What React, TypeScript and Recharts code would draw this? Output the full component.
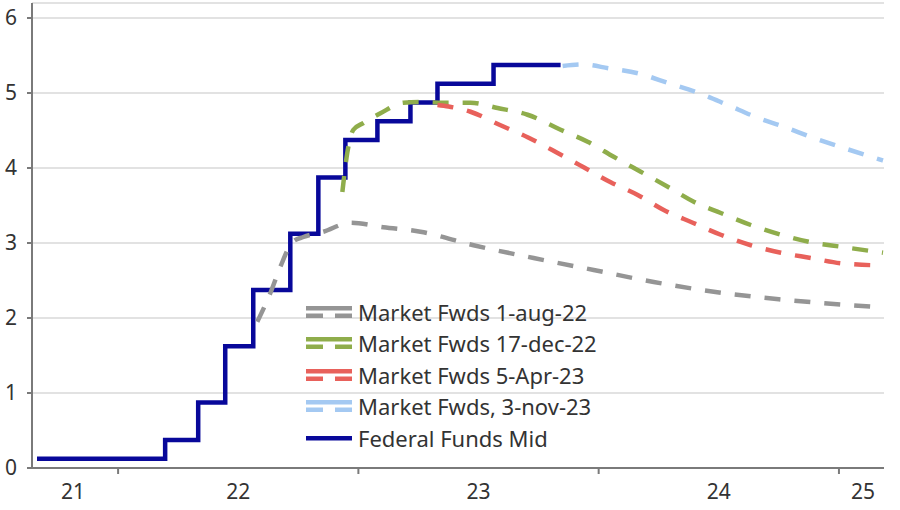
import { LineChart, Line, XAxis, YAxis, CartesianGrid, Legend } from 'recharts'

// x values are months since Jan 2022
const fedMonths = [-4.05, 2.35, 4.0, 5.35, 6.75, 8.6, 10.0, 11.35, 12.95, 14.6, 15.95, 18.75, 22.1]
const fedRates = [0.125, 0.375, 0.875, 1.625, 2.375, 3.125, 3.875, 4.375, 4.625, 4.875, 5.125, 5.375, 5.375]

const aug22Months = [6.95, 7.6, 8.1, 8.7, 9.25, 10.25, 11.6, 13.25, 15.1, 17.75, 20.75, 23.75, 26.75, 29.75, 33, 36.1, 38.2]
const aug22Rates = [1.95, 2.33, 2.68, 3.01, 3.08, 3.15, 3.27, 3.21, 3.15, 2.97, 2.8, 2.64, 2.48, 2.35, 2.25, 2.18, 2.14]

const dec22Months = [11.2, 11.45, 11.75, 12.25, 13.1, 14.25, 15.2, 16.25, 17.6, 18.95, 20.45, 22.1, 23.45, 24.75, 26.1, 27.45, 28.75, 30.1, 31.6, 33.1, 34.6, 36.1, 38.2]
const dec22Rates = [3.68, 4.21, 4.51, 4.6, 4.73, 4.87, 4.88, 4.87, 4.87, 4.8, 4.71, 4.51, 4.35, 4.15, 3.95, 3.75, 3.55, 3.4, 3.24, 3.11, 3.01, 2.95, 2.87]

const apr23Months = [15.95, 16.5, 17.6, 19.1, 20.45, 21.95, 23.25, 24.6, 25.95, 27.25, 28.7, 30.1, 31.6, 33.1, 34.6, 36.1, 38.2]
const apr23Rates = [4.84, 4.82, 4.75, 4.57, 4.41, 4.2, 4.01, 3.81, 3.64, 3.44, 3.27, 3.11, 2.97, 2.87, 2.8, 2.73, 2.7]

const nov23Months = [22.2, 23.2, 24.5, 26, 27.5, 29, 30.45, 31.85, 33.25, 34.75, 36.2, 38.2]
const nov23Rates = [5.36, 5.38, 5.33, 5.26, 5.13, 5.0, 4.84, 4.68, 4.55, 4.4, 4.27, 4.1]

const yearStarts = [0, 12, 24, 36]
const yearLabels = ['21', '22', '23', '24', '25']
const yearLabelPos = [-2.25, 6, 18, 30, 37.2]
const yTicks = [0, 1, 2, 3, 4, 5, 6]

const toPoints = (xs: number[], ys: number[]) => xs.map((m, i) => ({ m, v: ys[i] }))

const fwds = [
  { name: 'Market Fwds 1-aug-22', color: '#959595', data: toPoints(aug22Months, aug22Rates) },
  { name: 'Market Fwds 17-dec-22', color: '#8fad4b', data: toPoints(dec22Months, dec22Rates) },
  { name: 'Market Fwds 5-Apr-23', color: '#e8615b', data: toPoints(apr23Months, apr23Rates) },
  { name: 'Market Fwds, 3-nov-23', color: '#a4c9f2', data: toPoints(nov23Months, nov23Rates) },
]
const fed = { name: 'Federal Funds Mid', color: '#08089a', data: toPoints(fedMonths, fedRates) }

const axisGray = '#7a7a7a'
const textColor = '#333333'

function YearTick({ x, y, payload }: any) {
  const v = payload.value
  if (yearStarts.includes(v)) {
    return <line x1={x} x2={x} y1={y} y2={y + 6} stroke={axisGray} strokeWidth={2} />
  }
  const i = yearLabelPos.indexOf(v)
  return (
    <text x={x} y={y + 31} textAnchor="middle" fill={textColor} fontSize={21}>
      {yearLabels[i]}
    </text>
  )
}

function LegendBox() {
  const items = [...fwds.map((s) => ({ ...s, dashed: true })), { ...fed, dashed: false }]
  return (
    <div>
      {items.map((it) => (
        <div key={it.name} style={{ display: 'flex', alignItems: 'center', height: 31.5 }}>
          <svg width={46} height={14} style={{ marginRight: 6 }}>
            {it.dashed ? (
              <>
                <rect x={0} y={1} width={46} height={4.5} fill={it.color} />
                <rect x={0} y={8.5} width={17} height={4.5} fill={it.color} />
                <rect x={29} y={8.5} width={17} height={4.5} fill={it.color} />
              </>
            ) : (
              <rect x={0} y={5} width={46} height={4.5} fill={it.color} />
            )}
          </svg>
          <span style={{ fontSize: 22, color: textColor, whiteSpace: 'nowrap' }}>{it.name}</span>
        </div>
      ))}
    </div>
  )
}

export default function App() {
  return (
    <div style={{ position: 'absolute', left: 0, top: 0, background: '#fff', fontFamily: '"Noto Sans", sans-serif' }}>
      <LineChart width={900} height={510} margin={{ top: 3, right: 16, bottom: 0, left: 0 }}>
        <CartesianGrid vertical={false} stroke="#d8d8d8" strokeWidth={1.5} />
        <XAxis
          dataKey="m"
          type="number"
          domain={[-4.3, 38.25]}
          allowDataOverflow
          ticks={[...yearLabelPos, ...yearStarts].sort((a, b) => a - b)}
          interval={0}
          tick={<YearTick />}
          tickLine={false}
          tickSize={0}
          tickMargin={0}
          height={42}
          axisLine={{ stroke: axisGray, strokeWidth: 2 }}
        />
        <YAxis
          type="number"
          domain={[0, 6.2]}
          ticks={yTicks}
          width={32}
          tick={{ fill: textColor, fontSize: 21 }}
          tickLine={{ stroke: axisGray, strokeWidth: 2 }}
          tickSize={5}
          tickMargin={10}
          axisLine={{ stroke: axisGray, strokeWidth: 2 }}
        />
        <YAxis
          yAxisId="right"
          orientation="right"
          domain={[0, 6.2]}
          width={0}
          tick={false}
          tickLine={false}
          axisLine={{ stroke: axisGray, strokeWidth: 2 }}
        />
        <Line
          name={fed.name}
          data={fed.data}
          dataKey="v"
          type="stepAfter"
          stroke={fed.color}
          strokeWidth={4.5}
          dot={false}
          isAnimationActive={false}
        />
        {fwds.map((s) => (
          <Line
            key={s.name}
            name={s.name}
            data={s.data}
            dataKey="v"
            type="monotone"
            stroke={s.color}
            strokeWidth={4.5}
            strokeDasharray="16 14"
            dot={false}
            isAnimationActive={false}
          />
        ))}
        <Legend
          layout="vertical"
          align="center"
          verticalAlign="middle"
          content={<LegendBox />}
          wrapperStyle={{ position: 'absolute', left: 306, top: 296, width: 330 }}
        />
      </LineChart>
    </div>
  )
}
